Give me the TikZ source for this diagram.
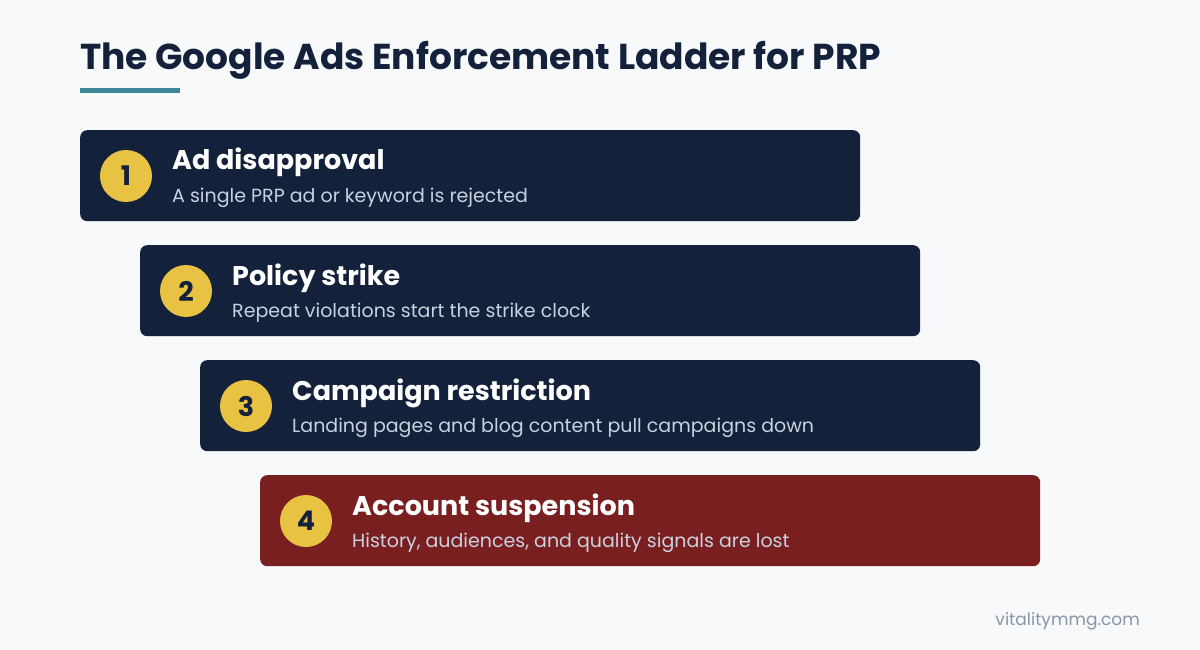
\documentclass[tikz,border=0pt]{standalone}
\usepackage{fontspec}
\setmainfont{Poppins}
\newfontfamily\popbold{Poppins}[UprightFont=* Bold]
\definecolor{bgc}{HTML}{F7F9FB}
\definecolor{navy}{HTML}{13213B}
\definecolor{darkred}{HTML}{7A1F20}
\definecolor{gold}{HTML}{E8C242}
\definecolor{teal}{HTML}{3D8796}
\definecolor{subc}{HTML}{C9D1E0}
\definecolor{footc}{HTML}{8896A8}
\tikzset{
  stepbox/.style={rounded corners=7pt, inner sep=0pt, minimum width=780pt, minimum height=91pt, anchor=north west},
  numdot/.style={circle, fill=gold, minimum size=52pt, inner sep=0pt, text=navy, font=\popbold\fontsize{27pt}{27pt}\selectfont},
  headtxt/.style={anchor=base west, inner sep=0pt, text=white, font=\popbold\fontsize{27pt}{30pt}\selectfont},
  subtxt/.style={anchor=base west, inner sep=0pt, text=subc, font=\fontsize{19pt}{22pt}\selectfont},
}
\begin{document}
\begin{tikzpicture}[x=1pt,y=-1pt]
\fill[bgc] (0,0) rectangle (1200,650);
\useasboundingbox (0,0) rectangle (1200,650);
\node[anchor=base west, inner sep=0pt, text=navy, font=\popbold\fontsize{36pt}{40pt}\selectfont] (title) at (80,70) {The Google Ads Enforcement Ladder for PRP};
\fill[teal] (80,88) rectangle (180,93);
% steps
\foreach \i/\x/\y/\c/\h/\s in {
 1/80/130/navy/{Ad disapproval}/{A single PRP ad or keyword is rejected},
 2/140/245/navy/{Policy strike}/{Repeat violations start the strike clock},
 3/200/360/navy/{Campaign restriction}/{Landing pages and blog content pull campaigns down},
 4/260/475/darkred/{Account suspension}/{History, audiences, and quality signals are lost}}{
  \node[stepbox, fill=\c] (box\i) at (\x,\y) {};
  \node[numdot] (num\i) at (\x+46,\y+46) {\i};
  \node[headtxt] (head\i) at (\x+92,\y+40) {\h};
  \node[subtxt] (sub\i) at (\x+92,\y+72) {\s};
}
\node[anchor=base east, inner sep=0pt, text=footc, font=\fontsize{17pt}{20pt}\selectfont] (foot) at (1140,625) {vitalitymmg.com};
\end{tikzpicture}
\end{document}
